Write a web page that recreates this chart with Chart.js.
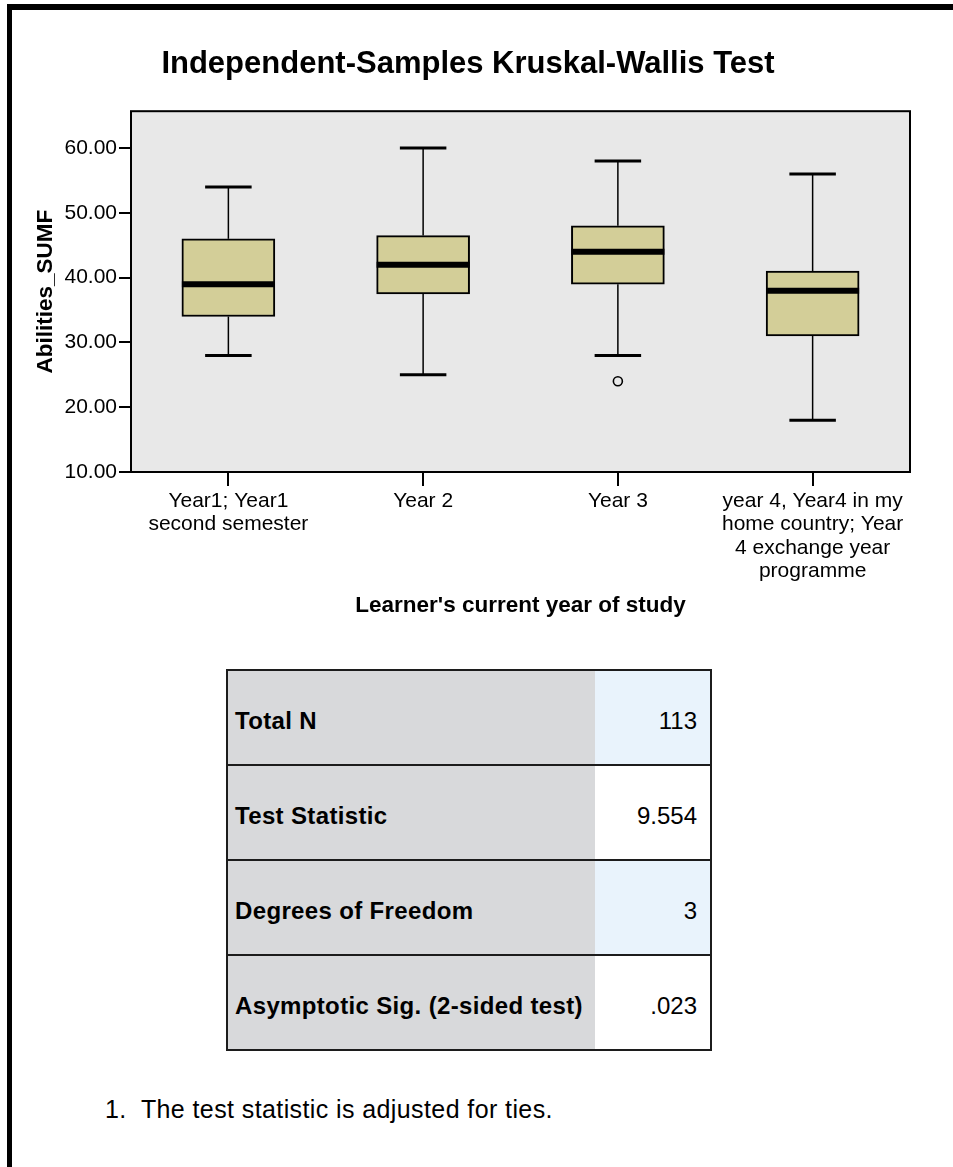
<!DOCTYPE html>
<html>
<head>
<meta charset="utf-8">
<script src="https://cdn.jsdelivr.net/npm/chart.js@4.4.1/dist/chart.umd.min.js"></script>
<style>
body{margin:0;background:#fff;width:953px;height:1167px;overflow:hidden;font-family:"Liberation Sans",Arial,sans-serif;color:#000;}
#frameTop{position:absolute;left:7px;top:4px;width:946px;height:6px;background:#000;z-index:2;}
#frameLeft{position:absolute;left:7px;top:4px;width:5px;height:1163px;background:#000;z-index:2;}
#wrap{position:absolute;left:0;top:0;width:953px;height:640px;}
#stats{position:absolute;left:226px;top:669px;width:486px;border-collapse:collapse;}
#stats td{border-top:2px solid #1c1c1c;border-bottom:2px solid #1c1c1c;height:87px;padding:0;font-size:24px;letter-spacing:0.35px;}
#stats td.lab{background:#d8d9db;font-weight:bold;padding-left:7px;padding-top:6px;border-left:2px solid #1c1c1c;width:360px;}
#stats td.val{text-align:right;padding-right:13px;padding-top:6px;border-right:2px solid #1c1c1c;letter-spacing:0;}
#note{position:absolute;left:105px;top:1095px;font-size:25px;letter-spacing:0.4px;white-space:pre;}
</style>
</head>
<body>
<div id="frameTop"></div>
<div id="frameLeft"></div>
<div id="wrap"><canvas id="c" width="953" height="640"></canvas></div>
<table id="stats"><tbody></tbody></table>
<div id="note">1.  The test statistic is adjusted for ties.</div>
<script>
const categories=[["Year1; Year1","second semester"],["Year 2"],["Year 3"],["year 4, Year4 in my","home country; Year","4 exchange year","programme"]];
const whiskerLow=[28,25,28,18];
const q1=[34,37.5,39,31];
const medians=[39,42,44,38];
const q3=[46,46.5,48,41];
const whiskerHigh=[54,60,58,56];
const outliers=[null,null,24,null];
const yTicks=[10,20,30,40,50,60];

const tableLabels=["Total N","Test Statistic","Degrees of Freedom","Asymptotic Sig. (2-sided test)"];
const tableValues=["113","9.554","3",".023"];
const valueBg=["#e9f3fc","#ffffff","#e9f3fc","#ffffff"];

Chart.defaults.font.family="'Liberation Sans', Arial, sans-serif";
Chart.defaults.color="#000";

function seg(ctx,x1,y1,x2,y2){
  ctx.beginPath();ctx.moveTo(x1,y1);ctx.lineTo(x2,y2);ctx.stroke();
}

// fond gris, moustaches, médianes et cadre
const boxPlot={
  id:"boxPlot",
  beforeDraw(chart){
    const {ctx,chartArea:a}=chart;
    ctx.save();
    ctx.fillStyle="#e8e8e8";
    ctx.fillRect(a.left,a.top,a.right-a.left,a.bottom-a.top);
    ctx.restore();
  },
  afterDatasetsDraw(chart){
    const {ctx,scales:{x,y}}=chart;
    const meta=chart.getDatasetMeta(0);
    ctx.save();
    ctx.strokeStyle="#000";
    categories.forEach((_,i)=>{
      const cx=x.getPixelForValue(i);
      const half=meta.data[i].width/2;
      const yHi=y.getPixelForValue(whiskerHigh[i]);
      const yLo=y.getPixelForValue(whiskerLow[i]);
      ctx.lineWidth=1.5;
      seg(ctx,cx,y.getPixelForValue(q3[i]),cx,yHi);
      seg(ctx,cx,y.getPixelForValue(q1[i]),cx,yLo);
      ctx.lineWidth=3;
      seg(ctx,cx-half/2,yHi,cx+half/2,yHi);
      seg(ctx,cx-half/2,yLo,cx+half/2,yLo);
      ctx.lineWidth=6;
      const ym=y.getPixelForValue(medians[i]);
      seg(ctx,cx-half,ym,cx+half,ym);
    });
    ctx.restore();
  },
  afterDraw(chart){
    const {ctx,chartArea:a}=chart;
    ctx.save();
    ctx.strokeStyle="#000";
    ctx.lineWidth=2;
    ctx.strokeRect(a.left,a.top,a.right-a.left,a.bottom-a.top);
    ctx.restore();
  }
};

new Chart(document.getElementById("c"),{
  type:"bar",
  data:{
    labels:categories,
    datasets:[
      {
        label:"box",
        data:q1.map((v,i)=>[v,q3[i]]),
        backgroundColor:"#d3ce98",
        borderColor:"#000",
        borderWidth:2,
        borderSkipped:false,
        barThickness:93
      },
      {
        type:"line",
        label:"outliers",
        data:outliers,
        showLine:false,
        pointRadius:4.5,
        pointBorderWidth:1.6,
        pointBorderColor:"#000",
        pointBackgroundColor:"rgba(0,0,0,0)"
      }
    ]
  },
  options:{
    responsive:false,
    animation:false,
    layout:{padding:{left:26,right:43,top:0,bottom:0}},
    plugins:{
      legend:{display:false},
      tooltip:{enabled:false},
      title:{
        display:true,
        text:"Independent-Samples Kruskal-Wallis Test",
        color:"#000",
        font:{size:31,weight:"bold",lineHeight:1.2},
        padding:{top:46,bottom:28}
      }
    },
    scales:{
      x:{
        offset:true,
        grid:{offset:false,drawOnChartArea:false,drawTicks:true,tickLength:14,color:"#000",lineWidth:2},
        border:{display:false},
        ticks:{color:"#000",font:{size:21,lineHeight:1.1},padding:4,maxRotation:0,minRotation:0,autoSkip:false},
        title:{display:true,text:"Learner's current year of study",color:"#000",font:{size:22.5,weight:"bold",lineHeight:1.2},padding:{top:0,bottom:21}},
        afterFit(s){s.height=168;}
      },
      y:{
        min:10,
        max:65.7,
        grid:{drawOnChartArea:false,drawTicks:true,tickLength:12,color:"#000",lineWidth:2},
        border:{display:false},
        afterBuildTicks(s){s.ticks=yTicks.map(v=>({value:v}));},
        ticks:{color:"#000",font:{size:21},padding:2,callback:(v)=>Number(v).toFixed(2)},
        title:{display:true,text:"Abilities_SUMF",color:"#000",font:{size:22.5,weight:"bold",lineHeight:1.2},padding:{top:6,bottom:0}},
        afterFit(s){s.width=105;}
      }
    }
  },
  plugins:[boxPlot]
});

// tableau des résultats
const tbody=document.querySelector("#stats tbody");
tableLabels.forEach((lab,i)=>{
  const tr=document.createElement("tr");
  const a=document.createElement("td");
  a.className="lab";a.textContent=lab;
  const b=document.createElement("td");
  b.className="val";b.textContent=tableValues[i];b.style.background=valueBg[i];
  tr.appendChild(a);tr.appendChild(b);
  tbody.appendChild(tr);
});
</script>
</body>
</html>
